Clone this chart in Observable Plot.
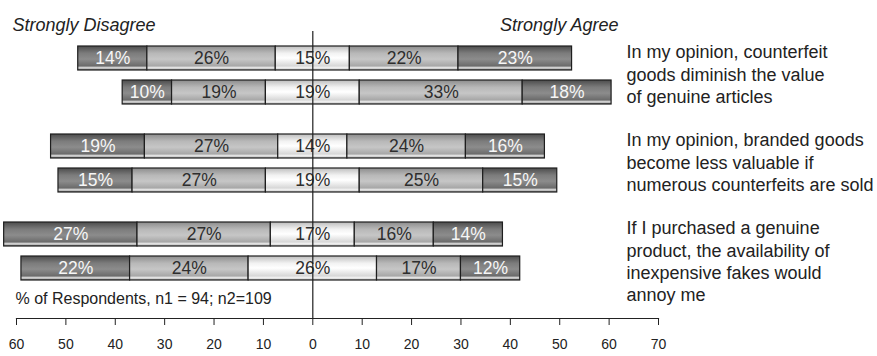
<!DOCTYPE html>
<html>
<head>
<meta charset="utf-8">
<script src="https://cdn.jsdelivr.net/npm/d3@7"></script>
<script src="https://cdn.jsdelivr.net/npm/@observablehq/plot@0.6"></script>
<style>
  body { margin: 0; background: #fff; }
  #chart svg { display: block; }
</style>
</head>
<body>
<div id="chart"></div>
<script>
// Survey statements (one pair of bars per statement: sample n1 above, n2 below)
const questions = ["q1", "q2", "q3"];
const questionLabels = [
  "In my opinion, counterfeit\ngoods diminish the value\nof genuine articles",
  "In my opinion, branded goods\nbecome less valuable if\nnumerous counterfeits are sold",
  "If I purchased a genuine\nproduct, the availability of\ninexpensive fakes would\nannoy me"
];

// One entry per bar
const rowQuestion = [0, 0, 1, 1, 2, 2];
const rowSample = ["n1", "n2", "n1", "n2", "n1", "n2"];

// Share of respondents (%) per answer category
const stronglyDisagree = [14, 10, 19, 15, 27, 22];
const disagree         = [26, 19, 27, 27, 27, 24];
const neutral          = [15, 19, 14, 19, 17, 26];
const agree            = [22, 33, 24, 25, 16, 17];
const stronglyAgree    = [23, 18, 16, 15, 14, 12];

const categories = ["Strongly Disagree", "Disagree", "Neutral", "Agree", "Strongly Agree"];
const tones = ["dark", "mid", "light", "mid", "dark"];

const xTicks = [-60, -50, -40, -30, -20, -10, 0, 10, 20, 30, 40, 50, 60, 70];
const footnote = "% of Respondents, n1 = 94; n2=109";

// Diverging stack: the neutral segment is centred on zero
const series = [stronglyDisagree, disagree, neutral, agree, stronglyAgree];
const segments = [];
rowQuestion.forEach((qi, r) => {
  let x = -(series[0][r] + series[1][r] + series[2][r] / 2);
  series.forEach((s, c) => {
    segments.push({
      question: questions[qi],
      sample: rowSample[r],
      category: categories[c],
      tone: tones[c],
      value: s[r],
      x1: x,
      x2: x + s[r]
    });
    x += s[r];
  });
});

const font = "'Liberation Sans', Arial, Helvetica, sans-serif";

// bars of one sample, placed inside the statement's band
function sampleMarks(sample, insetTop, insetBottom, dy) {
  const data = segments.filter(d => d.sample === sample);
  return [
    Plot.barX(data, {
      x1: "x1", x2: "x2", y: "question",
      insetTop, insetBottom,
      fill: d => `url(#grad-${d.tone})`,
      stroke: "#1e1e1e", strokeWidth: 1.2
    }),
    Plot.text(data, {
      x: d => (d.x1 + d.x2) / 2, y: "question", dy,
      text: d => `${d.value}%`,
      fill: d => d.tone === "dark" ? "#f6f6f6" : "#2e2e2e",
      fontSize: 17.5
    })
  ];
}

const plot = Plot.plot({
  width: 877,
  height: 356,
  marginLeft: 16,
  marginRight: 219,
  marginTop: 31,
  marginBottom: 38,
  style: { fontFamily: font, background: "#fff", color: "#222" },
  x: { domain: [-60, 70], label: null },
  y: { domain: questions, padding: 0, insetBottom: 23, axis: null },
  color: { type: "identity" },
  marks: [
    ...sampleMarks("n1", 15, 49, -17),
    ...sampleMarks("n2", 49, 15, 17),
    Plot.ruleX([0], { stroke: "#1e1e1e", strokeWidth: 1.2 }),
    Plot.frame({ anchor: "bottom", stroke: "#222", strokeWidth: 1.2 }),
    Plot.axisX({
      ticks: xTicks, tickFormat: Math.abs, tickSize: 7, tickPadding: 14,
      fontSize: 14, color: "#222", label: null
    }),
    Plot.text(questions, {
      y: d => d, text: (d, i) => questionLabels[i],
      frameAnchor: "right", dx: -32, dy: -33,
      textAnchor: "start", lineAnchor: "top", lineHeight: 1.24,
      fontSize: 18, fill: "#222"
    }),
    Plot.text(["Strongly Disagree"], {
      frameAnchor: "top-left", dx: -4, dy: -13, textAnchor: "start",
      fontSize: 18, fontStyle: "italic", fill: "#222"
    }),
    Plot.text(["Strongly Agree"], {
      frameAnchor: "top-right", dx: -40, dy: -13, textAnchor: "end",
      fontSize: 18, fontStyle: "italic", fill: "#222"
    }),
    Plot.text([footnote], {
      frameAnchor: "bottom-left", dx: -1, dy: -15, textAnchor: "start",
      fontSize: 16, fill: "#222"
    })
  ]
});

// shaded fills for the three tones of the bars
const gradients = {
  dark: [[0, "#4c4c4c"], [0.3, "#7c7c7c"], [0.55, "#8c8c8c"], [0.84, "#6a6a6a"], [0.88, "#d6d6d6"], [0.94, "#bcbcbc"], [1, "#5a5a5a"]],
  mid: [[0, "#8c8c8c"], [0.3, "#b8b8b8"], [0.55, "#c6c6c6"], [0.84, "#a6a6a6"], [0.88, "#e8e8e8"], [0.94, "#d0d0d0"], [1, "#9a9a9a"]],
  light: [[0, "#bdbdbd"], [0.3, "#f2f2f2"], [0.5, "#ffffff"], [0.84, "#d6d6d6"], [0.88, "#f4f4f4"], [0.94, "#e0e0e0"], [1, "#b0b0b0"]]
};
const defs = d3.select(plot).insert("defs", ":first-child");
Object.entries(gradients).forEach(([name, stops]) => {
  const g = defs.append("linearGradient")
    .attr("id", `grad-${name}`)
    .attr("x1", 0).attr("y1", 0).attr("x2", 0).attr("y2", 1);
  stops.forEach(([o, c]) => g.append("stop").attr("offset", o).attr("stop-color", c));
});

document.getElementById("chart").appendChild(plot);
</script>
</body>
</html>
